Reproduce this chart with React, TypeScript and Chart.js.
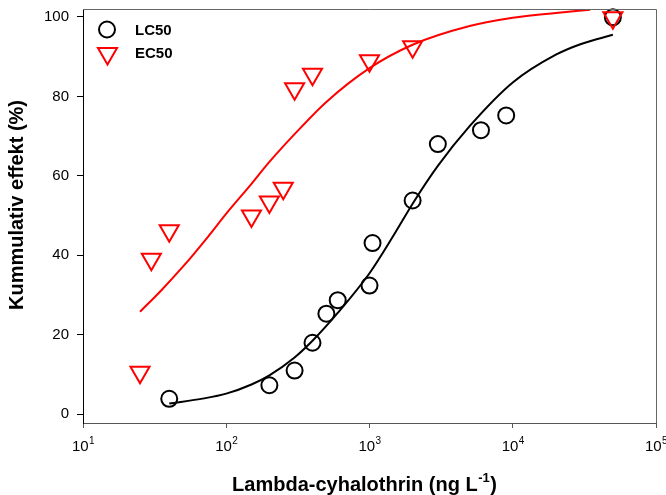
import React, { useEffect, useRef } from 'react';
import { Chart, registerables } from 'chart.js';

Chart.register(...registerables);

// ---- data ----
const xTickValues = [10, 100, 1000, 10000, 100000];
const xTickExponents = ['1', '2', '3', '4', '5'];
const yTickValues = [0, 20, 40, 60, 80, 100];

const lcX = [40, 200, 300, 400, 500, 600, 1000, 1050, 2000, 3000, 6000, 9000, 50000];
const lcY = [3.9, 7.3, 11.0, 18.0, 25.3, 28.7, 32.4, 43.1, 53.8, 68.0, 71.5, 75.2, 99.9];

const ecX = [25, 30, 40, 150, 200, 250, 300, 400, 1000, 2000, 50000];
const ecY = [10.6, 39.0, 46.2, 49.9, 53.4, 56.9, 81.9, 85.6, 89.0, 92.5, 99.8];

const lcFitX = [40, 70, 100, 150, 200, 300, 400, 600, 1000, 1500, 2000, 3000, 5000, 10000, 20000, 30000, 50000];
const lcFitY = [2.7, 4.0, 5.2, 7.5, 9.8, 14.3, 18.5, 25.5, 35.5, 45.5, 53.0, 62.5, 72.5, 83.5, 90.5, 93.2, 95.5];

const ecFitX = [25, 35, 50, 75, 100, 150, 200, 300, 500, 1000, 2000, 5000, 10000, 20000, 34700];
const ecFitY = [25.8, 31.1, 37.2, 44.8, 50.5, 58.0, 63.5, 70.5, 78.6, 87.1, 93.0, 97.7, 99.8, 101.0, 101.8];

const seriesLabels = ['LC50', 'EC50'];
const xTitle = 'Lambda-cyhalothrin (ng L';
const xTitleSup = '-1';
const xTitleEnd = ')';
const yTitle = 'Kummulativ effekt (%)';

const FONT = '"Liberation Sans", Arial, sans-serif';

const pts = (xs: number[], ys: number[]) => xs.map((x, i) => ({ x, y: ys[i] }));

const decorPlugin = {
  id: 'decor',
  afterDraw(chart: any) {
    const { ctx, chartArea: a, scales } = chart;
    ctx.save();
    // top & right frame
    ctx.strokeStyle = '#666';
    ctx.lineWidth = 1;
    ctx.beginPath();
    ctx.moveTo(a.left, Math.round(a.top) + 0.5);
    ctx.lineTo(Math.round(a.right) + 0.5, Math.round(a.top) + 0.5);
    ctx.lineTo(Math.round(a.right) + 0.5, a.bottom);
    ctx.stroke();

    // x tick labels with superscripts
    ctx.fillStyle = '#000';
    ctx.textBaseline = 'alphabetic';
    ctx.textAlign = 'left';
    const xs = scales.x;
    xTickValues.forEach((v, i) => {
      const px = xs.getPixelForValue(v);
      ctx.font = `15px ${FONT}`;
      const w1 = ctx.measureText('10').width;
      ctx.font = `10px ${FONT}`;
      const w2 = ctx.measureText(xTickExponents[i]).width;
      const start = px - (w1 + w2) / 2;
      ctx.font = `15px ${FONT}`;
      ctx.fillText('10', start, 451);
      ctx.font = `10px ${FONT}`;
      ctx.fillText(xTickExponents[i], start + w1 + 0.5, 444);
    });

    // x title
    ctx.font = `bold 20px ${FONT}`;
    const t1 = ctx.measureText(xTitle).width;
    const t3 = ctx.measureText(xTitleEnd).width;
    ctx.font = `bold 13px ${FONT}`;
    const t2 = ctx.measureText(xTitleSup).width;
    const sx = 364 - (t1 + t2 + t3) / 2;
    ctx.font = `bold 20px ${FONT}`;
    ctx.fillText(xTitle, sx, 491);
    ctx.font = `bold 13px ${FONT}`;
    ctx.fillText(xTitleSup, sx + t1 + 0.5, 482);
    ctx.font = `bold 20px ${FONT}`;
    ctx.fillText(xTitleEnd, sx + t1 + t2 + 1, 491);

    // y title
    ctx.save();
    ctx.translate(17, 205);
    ctx.rotate(-Math.PI / 2);
    ctx.textAlign = 'center';
    ctx.textBaseline = 'middle';
    ctx.font = `bold 20px ${FONT}`;
    ctx.fillText(yTitle, 0, 0);
    ctx.restore();

    // legend
    const ds = chart.data.datasets;
    const lc = ds[2];
    const ec = ds[3];
    ctx.lineWidth = lc.borderWidth;
    ctx.strokeStyle = lc.borderColor;
    ctx.beginPath();
    ctx.arc(107, 29.5, lc.pointRadius, 0, Math.PI * 2);
    ctx.stroke();
    const r = ec.pointRadius;
    const cx = 107.5;
    const cy = 53.5;
    ctx.strokeStyle = ec.borderColor;
    ctx.lineWidth = ec.borderWidth;
    ctx.beginPath();
    for (let k = 0; k < 3; k++) {
      const ang = Math.PI + (k * 2 * Math.PI) / 3;
      const X = cx + Math.sin(ang) * r;
      const Y = cy - Math.cos(ang) * r;
      if (k === 0) ctx.moveTo(X, Y);
      else ctx.lineTo(X, Y);
    }
    ctx.closePath();
    ctx.stroke();
    ctx.fillStyle = '#000';
    ctx.font = `bold 15px ${FONT}`;
    ctx.textAlign = 'left';
    ctx.textBaseline = 'middle';
    ctx.fillText(seriesLabels[0], 135, 31);
    ctx.fillText(seriesLabels[1], 135, 54);
    ctx.restore();
  },
};

export default function App() {
  const ref = useRef<HTMLCanvasElement>(null);
  useEffect(() => {
    document.body.style.margin = '0';
    const canvas = ref.current!;
    const chart = new Chart(canvas, {
      type: 'scatter',
      data: {
        datasets: [
          {
            label: 'LC50 fit',
            data: pts(lcFitX, lcFitY),
            showLine: true,
            borderColor: '#000000',
            borderWidth: 2,
            pointRadius: 0,
            cubicInterpolationMode: 'monotone',
            fill: false,
            order: 3,
          },
          {
            label: 'EC50 fit',
            data: pts(ecFitX, ecFitY),
            showLine: true,
            borderColor: '#ff0000',
            borderWidth: 2,
            pointRadius: 0,
            cubicInterpolationMode: 'monotone',
            fill: false,
            order: 2,
          },
          {
            label: seriesLabels[0],
            data: pts(lcX, lcY),
            showLine: false,
            pointStyle: 'circle',
            pointRadius: 8,
            borderColor: '#000000',
            backgroundColor: 'rgba(0,0,0,0)',
            borderWidth: 2,
            clip: false,
            order: 1,
          },
          {
            label: seriesLabels[1],
            data: pts(ecX, ecY),
            showLine: false,
            pointStyle: 'triangle',
            rotation: 180,
            pointRadius: 11,
            borderColor: '#ff0000',
            backgroundColor: 'rgba(0,0,0,0)',
            borderWidth: 2,
            clip: false,
            order: 0,
          },
        ],
      } as any,
      options: {
        responsive: false,
        animation: false,
        devicePixelRatio: 1,
        layout: { autoPadding: false, padding: { top: 9, right: 10, left: 0, bottom: 0 } },
        plugins: {
          legend: { display: false },
          tooltip: { enabled: false },
          title: { display: false },
        },
        scales: {
          x: {
            type: 'logarithmic',
            min: 10,
            max: 100000,
            afterBuildTicks: (s: any) => {
              s.ticks = xTickValues.map((v) => ({ value: v }));
            },
            afterFit: (s: any) => {
              s.height = 72;
              s.paddingLeft = 0;
              s.paddingRight = 0;
            },
            ticks: { display: false },
            grid: {
              drawOnChartArea: false,
              drawTicks: true,
              tickLength: 5,
              color: '#555',
              lineWidth: 1,
            },
            border: { display: true, color: '#555', width: 1 },
          },
          y: {
            type: 'linear',
            min: -2.2,
            max: 102,
            afterBuildTicks: (s: any) => {
              s.ticks = yTickValues.map((v) => ({ value: v }));
            },
            afterFit: (s: any) => {
              s.width = 83;
              s.paddingTop = 0;
              s.paddingBottom = 0;
            },
            ticks: {
              color: '#000',
              padding: 8,
              font: { family: FONT, size: 15 },
            },
            grid: {
              drawOnChartArea: false,
              drawTicks: true,
              tickLength: 6,
              color: '#000',
              lineWidth: 1,
            },
            border: { display: true, color: '#000', width: 1 },
          },
        },
      } as any,
      plugins: [decorPlugin],
    });
    return () => chart.destroy();
  }, []);
  return (
    <div style={{ width: 666, height: 495, position: 'relative' }}>
      <canvas ref={ref} width={666} height={495} style={{ display: 'block' }} />
    </div>
  );
}
